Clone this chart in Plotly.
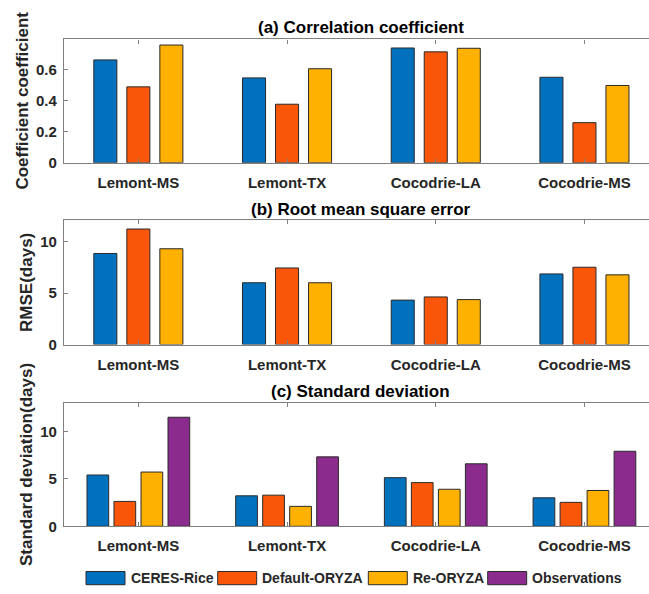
import plotly.graph_objects as go

# ---- data -------------------------------------------------------------
sites = ["Lemont-MS", "Lemont-TX", "Cocodrie-LA", "Cocodrie-MS"]
series = ["CERES-Rice", "Default-ORYZA", "Re-ORYZA", "Observations"]

corr_ceres = [0.664, 0.548, 0.741, 0.552]
corr_default = [0.490, 0.378, 0.716, 0.259]
corr_re = [0.760, 0.607, 0.739, 0.499]

rmse_ceres = [8.87, 6.02, 4.33, 6.88]
rmse_default = [11.25, 7.46, 4.64, 7.53]
rmse_re = [9.33, 6.02, 4.38, 6.79]

sd_ceres = [5.40, 3.21, 5.12, 3.00]
sd_default = [2.62, 3.28, 4.60, 2.52]
sd_re = [5.71, 2.10, 3.90, 3.77]
sd_obs = [11.48, 7.31, 6.58, 7.90]

corr_ticks = [0, 0.2, 0.4, 0.6]
rmse_ticks = [0, 5, 10]
sd_ticks = [0, 5, 10]
corr_tick_text = ["0", "0.2", "0.4", "0.6"]

# ---- style ------------------------------------------------------------
W, H = 649, 594
colors = ["#0071BD", "#F9560A", "#FEB101", "#8C2B8E"]
FONT = "Liberation Sans, Arial, Helvetica, sans-serif"
AXIS_GRAY = "#808080"
TEXT = "#262626"


def px_x(p):
    return p / W


def px_y(p):
    return 1 - p / H


fig = go.Figure()

# bar layout inside each category slot (category units)
three_w, three_pitch = 0.155, 0.222
four_w, four_pitch = 0.146, 0.1816

panels = [
    ("", [corr_ceres, corr_default, corr_re]),
    ("2", [rmse_ceres, rmse_default, rmse_re]),
    ("3", [sd_ceres, sd_default, sd_re, sd_obs]),
]

for suffix, vals in panels:
    n = len(vals)
    w = three_w if n == 3 else four_w
    pitch = three_pitch if n == 3 else four_pitch
    for i, v in enumerate(vals):
        center = (i - (n - 1) / 2) * pitch
        fig.add_trace(go.Bar(
            x=sites, y=v, name=series[i],
            width=w, offset=center - w / 2,
            marker=dict(color=colors[i], line=dict(color="#2a2a2a", width=1)),
            xaxis="x" + suffix, yaxis="y" + suffix,
            showlegend=False,
        ))

# axes geometry (pixels)
left_px = 64
xrange_ = [-0.5, -0.5 + (W - left_px) / 148.7]
boxes = [(40, 165), (223.3, 349.3), (408.3, 533.5)]
yranges = [[0, 0.796], [0, 12.1], [0, 13.0]]
ytick_sets = [(corr_ticks, corr_tick_text), (rmse_ticks, None), (sd_ticks, None)]

tickfont = dict(family=FONT, size=15, color=TEXT, weight="bold")

layout_axes = {}
for k, (suffix, _) in enumerate(panels):
    top, bot = boxes[k]
    xname = "xaxis" + suffix
    yname = "yaxis" + suffix
    layout_axes[xname] = dict(
        domain=[px_x(left_px), 1], range=xrange_, anchor="y" + suffix,
        type="category", showgrid=False, zeroline=False,
        showline=True, linecolor=AXIS_GRAY, linewidth=1.3, mirror="ticks",
        ticks="inside", ticklen=4, tickcolor=AXIS_GRAY, tickwidth=1,
        tickfont=tickfont, ticklabelstandoff=6,
    )
    tv, tt = ytick_sets[k]
    ydict = dict(
        domain=[px_y(bot), px_y(top)], range=yranges[k], anchor="x" + suffix,
        showgrid=False, zeroline=False,
        showline=True, linecolor=AXIS_GRAY, linewidth=1.3,
        ticks="inside", ticklen=4, tickcolor=AXIS_GRAY, tickwidth=1,
        tickvals=tv, tickfont=tickfont, ticklabelstandoff=3,
    )
    if tt is not None:
        ydict["ticktext"] = tt
    layout_axes[yname] = ydict

annotations = []
titles = ["(a) Correlation coefficient", "(b) Root mean square error",
          "(c) Standard deviation"]
title_y = [27.5, 212.5, 396.5]
for t, yy in zip(titles, title_y):
    annotations.append(dict(
        text=t, x=px_x(360.5), y=px_y(yy), xref="paper", yref="paper",
        xanchor="center", yanchor="middle", showarrow=False,
        font=dict(family=FONT, size=17, color="black", weight="bold"),
    ))

ytitles = ["Coefficient coefficient", "RMSE(days)", "Standard deviation(days)"]
ytitle_x = [22.5, 26.5, 26.5]
for t, xx, (top, bot) in zip(ytitles, ytitle_x, boxes):
    annotations.append(dict(
        text=t, x=px_x(xx), y=px_y((top + bot) / 2), xref="paper", yref="paper",
        xanchor="center", yanchor="middle", showarrow=False, textangle=-90,
        font=dict(family=FONT, size=17, color=TEXT, weight="bold"),
    ))

# legend row along the bottom
legend_left = [86, 217.7, 368.3, 487.7]
patch_w, patch_top, patch_bot = 39, 579.3, 592.7
shapes = []
for name, c, lx in zip(series, colors, legend_left):
    shapes.append(dict(
        type="rect", xref="paper", yref="paper",
        x0=px_x(lx), x1=px_x(lx + patch_w), y0=px_y(patch_bot), y1=px_y(patch_top),
        fillcolor=c, line=dict(color="#2a2a2a", width=1),
    ))
    annotations.append(dict(
        text=name, x=px_x(lx + patch_w + 3.5), y=px_y((patch_top + patch_bot) / 2),
        xref="paper", yref="paper", xanchor="left", yanchor="middle",
        showarrow=False,
        font=dict(family=FONT, size=14, color=TEXT, weight="bold"),
    ))

fig.update_layout(
    width=W, height=H,
    margin=dict(l=0, r=0, t=0, b=0),
    paper_bgcolor="white", plot_bgcolor="white",
    barmode="overlay",
    annotations=annotations, shapes=shapes,
    **layout_axes,
)

fig.write_html("out.html")
